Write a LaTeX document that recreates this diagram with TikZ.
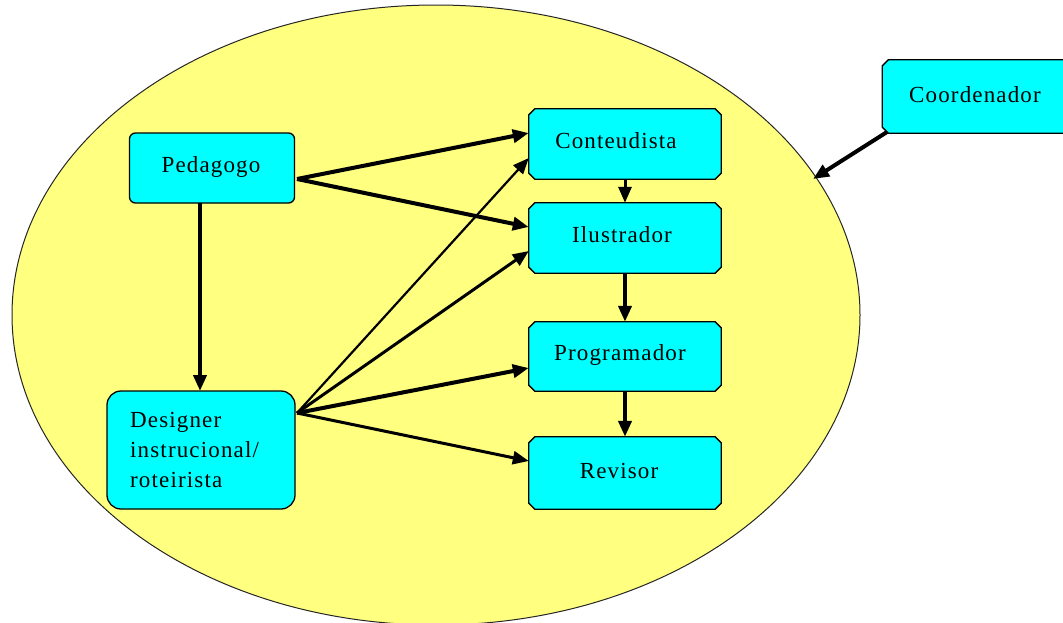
\documentclass[tikz,border=0pt]{standalone}
\usepackage{fontspec}
\setmainfont{Liberation Serif}
\newfontfamily\boxfont{Liberation Serif}[LetterSpace=5]
\usetikzlibrary{arrows.meta}
\definecolor{pale}{HTML}{FFFF80}
\definecolor{aqua}{HTML}{00FFFF}
% chamfered outline drawn round a named node
\newcommand\chamferbox[1]{%
  \filldraw[boxline] ([xshift=6pt]#1.north west) -- ([xshift=-6pt]#1.north east)
    -- ([yshift=-6pt]#1.north east) -- ([yshift=6pt]#1.south east)
    -- ([xshift=-6pt]#1.south east) -- ([xshift=6pt]#1.south west)
    -- ([yshift=6pt]#1.south west) -- ([yshift=-6pt]#1.north west) -- cycle;}
\begin{document}
\begin{tikzpicture}[x=1pt,y=-1pt,
  box/.style={rectangle, inner sep=0pt, minimum width=192pt, minimum height=70pt},
  boxline/.style={draw=black, line width=1.3pt, fill=aqua},
  rbox/.style={draw=black, line width=1.3pt, fill=aqua, rectangle, inner sep=0pt},
  lbl/.style={font=\boxfont\fontsize{23}{30}\selectfont, inner sep=0pt},
  arr/.style={draw=black, line width=4pt, -{Triangle[length=16pt,width=13pt]}},
  thinarr/.style={arr, line width=2.2pt},
  midarr/.style={arr, line width=3pt}
]
\useasboundingbox (0,0) rectangle (1063,622);
\clip (0,0) rectangle (1063,622);

% the team ellipse
\fill[white] (0,0) rectangle (1063,622);
\draw[fill=pale, draw=black!85, line width=1pt] (436,315) ellipse [x radius=424, y radius=310];
\coordinate (rim) at (813,179);

% boxes
\node[rbox, rounded corners=6pt, minimum width=165pt, minimum height=70pt] (ped) at (212,168) {};
\node[rbox, rounded corners=14pt, minimum width=188pt, minimum height=118pt] (des) at (201,450) {};
\node[box] (con) at (625,144) {};
\node[box] (ilu) at (625,238) {};
\node[box, minimum height=69pt] (pro) at (625,356.5) {};
\node[box, minimum height=72pt] (rev) at (625,473) {};
\node[box, minimum width=187pt, minimum height=73pt] (coo) at (976,96.5) {};
\chamferbox{con}
\chamferbox{ilu}
\chamferbox{pro}
\chamferbox{rev}
\chamferbox{coo}

% labels
\node[lbl, anchor=base] (pedT) at (211,172) {Pedagogo};
\node[lbl, anchor=north west, align=left] (desT) at (130,412) {Designer\\instrucional/\\roteirista};
\node[lbl, anchor=base] (conT) at (616,148) {Conteudista};
\node[lbl, anchor=base] (iluT) at (622,242) {Ilustrador};
\node[lbl, anchor=base] (proT) at (620,360) {Programador};
\node[lbl, anchor=base] (revT) at (619,478) {Revisor};
\node[lbl, anchor=base] (cooT) at (975,102) {Coordenador};

% connectors
\coordinate (pOut) at (297,179);
\coordinate (dOut) at (297,413);
\coordinate (pDown) at (200,203);
\coordinate (dTop) at (200,391);
\draw[arr] (pDown) -- (dTop);
\draw[arr] (pOut) -- ([yshift=11pt]con.west);
\draw[arr] (pOut) -- ([yshift=11pt]ilu.west);
\draw[thinarr] (dOut) -- ([yshift=-14pt]con.west);
\draw[midarr] (dOut) -- ([yshift=-13pt]ilu.west);
\draw[arr] (dOut) -- ([yshift=-11.5pt]pro.west);
\draw[midarr] (dOut) -- ([yshift=12pt]rev.west);
\draw[midarr] (con.south) -- (ilu.north);
\draw[arr] (ilu.south) -- (pro.north);
\draw[arr] (pro.south) -- (rev.north);
\coordinate (cOut) at (887,132);
\draw[arr] (cOut) -- (rim);
\end{tikzpicture}
\end{document}
